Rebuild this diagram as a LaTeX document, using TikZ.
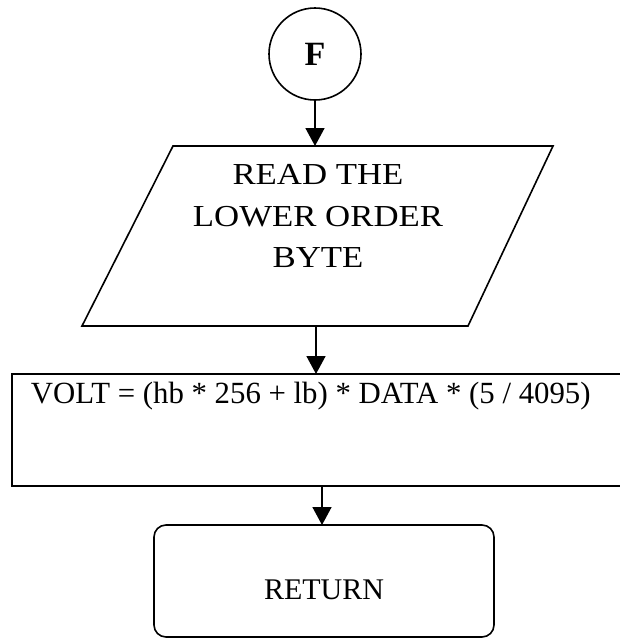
\documentclass[tikz,border=0pt]{standalone}
\usepackage{fontspec}
\setmainfont{Liberation Serif}
\newfontfamily\wideserif[FakeStretch=1.14]{Liberation Serif}
\usetikzlibrary{arrows.meta}
\begin{document}
\begin{tikzpicture}[x=1pt,y=-1pt,
  line width=1.6pt,
  flow/.style={-{Triangle[length=18pt,width=19pt]}},
  connector/.style={draw,circle,minimum size=92pt,inner sep=0pt,
    font=\fontsize{34}{34}\selectfont\bfseries},
  termbox/.style={draw,rectangle,rounded corners=12pt,minimum width=340pt,
    minimum height=112pt,inner sep=0pt},
  body/.style={font=\fontsize{30}{41.5}\selectfont,inner sep=0pt}]
  \useasboundingbox (0,0) rectangle (620,640);

  % start connector
  \node[connector] (f) at (315,54) {F};

  % input parallelogram
  \coordinate (ptl) at (173,146);
  \coordinate (ptr) at (553,146);
  \coordinate (pbr) at (468,326);
  \coordinate (pbl) at (82,326);
  \draw (ptl) -- (ptr) -- (pbr) -- (pbl) -- cycle;
  \node[body,align=center,font=\fontsize{30.5}{41.5}\wideserif] (read) at (318,216)
    {READ THE\\LOWER ORDER\\BYTE};
  \coordinate (pin) at (315,146);
  \coordinate (pout) at (316,326);

  % process box, open on the right
  \coordinate (rtl) at (12,374);
  \coordinate (rbl) at (12,486);
  \draw (620,374) -- (rtl) -- (rbl) -- (620,486);
  \node[body,anchor=base west,font=\fontsize{30.8}{40}\selectfont] (volt) at (30,403)
    {VOLT = (hb * 256 + lb) * DATA * (5 / 4095)};
  \coordinate (rin) at (316,374);
  \coordinate (rout) at (322,486);

  % terminal
  \node[termbox] (ret) at (324,581) {};
  \node[body] (rettext) at (324,590) {RETURN};
  \coordinate (tin) at (322,525);

  % connectors
  \draw[flow] (f.south) -- (pin);
  \draw[flow] (pout) -- (rin);
  \draw[flow] (rout) -- (tin);
\end{tikzpicture}
\end{document}
